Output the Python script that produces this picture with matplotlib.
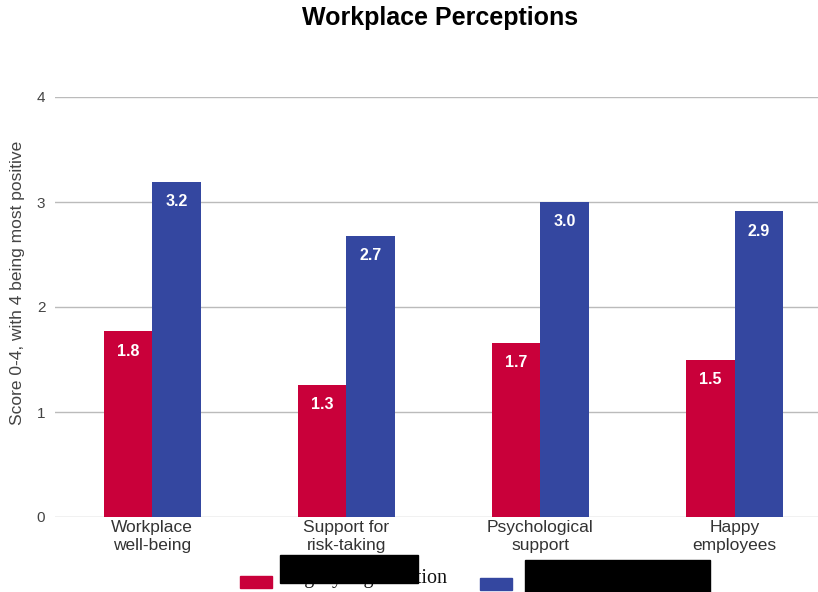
import numpy as np
import matplotlib.pyplot as plt
from matplotlib.patches import Rectangle

plt.rcParams['font.family'] = ['Liberation Sans', 'DejaVu Sans']

# ---- data ----
categories = ['Workplace\nwell-being', 'Support for\nrisk-taking',
              'Psychological\nsupport', 'Happy\nemployees']
series_names = ['Legacy organization', 'Agile organization']
traditional = [1.77, 1.26, 1.66, 1.50]
agile = [3.19, 2.68, 3.00, 2.91]
yticks = [0, 1, 2, 3, 4]

RED = '#C9003A'
BLUE = '#3447A0'

W, H = 818, 592
fig = plt.figure(figsize=(W / 100, H / 100), dpi=100)
ax = fig.add_axes([55 / W, 1 - 517 / H, 1 - 55 / W, (517 - 97) / H])

x = np.arange(len(categories))
bw = 0.25
b1 = ax.bar(x - bw / 2, traditional, bw, color=RED, zorder=3)
b2 = ax.bar(x + bw / 2, agile, bw, color=BLUE, zorder=3)

for bars, vals in ((b1, traditional), (b2, agile)):
    for rect, v in zip(bars, vals):
        ax.text(rect.get_x() + rect.get_width() / 2, v - 0.19, f"{v:.1f}",
                ha='center', va='center', color='white', fontsize=11.5,
                fontweight='bold', zorder=4)

ax.set_xlim(-0.5, 3.43)
ax.set_ylim(0, 4)
ax.set_yticks(yticks)
ax.set_yticklabels([str(t) for t in yticks])
ax.grid(axis='y', color='#bbbbbb', linewidth=1, zorder=0)
ax.set_axisbelow(True)
for s in ax.spines.values():
    s.set_visible(False)
ax.tick_params(axis='y', length=0, pad=7, labelsize=11, labelcolor='#444444')
ax.tick_params(axis='x', length=0, pad=2, labelsize=12.5, labelcolor='#333333')
ax.set_xticks(x)
ax.set_xticklabels(categories, linespacing=1.3)

fig.text(18 / W, 1 - 283 / H, 'Score 0-4, with 4 being most positive',
         rotation=90, ha='center', va='center', fontsize=12.5, color='#444444')
fig.text(440 / W, 1 - 18 / H, 'Workplace Perceptions', ha='center',
         va='center', fontsize=18, fontweight='bold')

# legend at the bottom: swatches and labels
legend_items = [(240, 576, RED, 283, series_names[0]),
                (480, 578, BLUE, 532, series_names[1])]
for px, py, col, tx, label in legend_items:
    fig.patches.append(Rectangle((px / W, 1 - (py + 12) / H), 32 / W, 12 / H,
                                 transform=fig.transFigure, color=col))
    fig.text(tx / W, 1 - 579 / H, label, ha='left', va='center',
             family='Liberation Serif', fontsize=14.5, color='#111111')

# redaction boxes as in the reference
for x0, y0, x1, y1 in [(280, 555, 418, 583), (525, 560, 710, 592)]:
    fig.patches.append(Rectangle((x0 / W, 1 - y1 / H), (x1 - x0) / W,
                                 (y1 - y0) / H, transform=fig.transFigure,
                                 color='black', zorder=10))

fig.savefig('out.png', dpi=100)
